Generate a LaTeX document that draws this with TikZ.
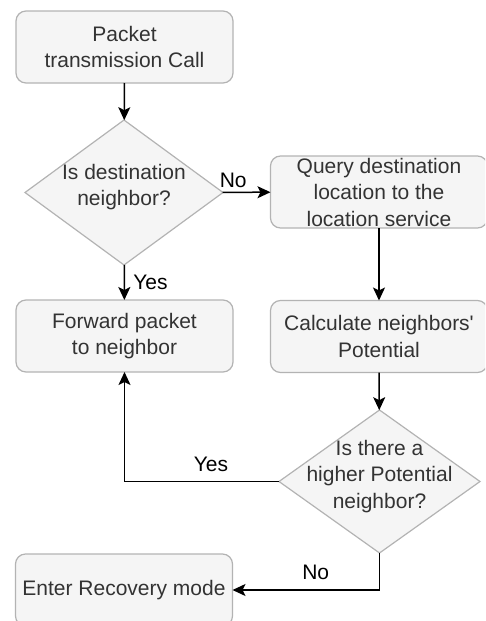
\documentclass[tikz,border=0pt]{standalone}
\usepackage{fontspec}
\setmainfont{Liberation Sans}
\usepackage{xcolor}
\usetikzlibrary{arrows.meta, shapes.geometric}
\definecolor{boxF}{HTML}{F5F5F5}
\definecolor{boxD}{HTML}{B3B3B3}
\definecolor{boxT}{HTML}{333333}
% text that does not size its diamond
\newcommand{\flattext}[1]{\smash{\makebox[0pt]{\begin{tabular}{@{}c@{}}#1\end{tabular}}}}

\begin{document}
\begin{tikzpicture}[x=1pt, y=-1pt,
  every node/.style={font=\fontsize{21}{26.5}\selectfont},
  stepbox/.style={draw=boxD, line width=1.2pt, fill=boxF, text=boxT, rounded corners=10pt,
    minimum width=217pt, minimum height=72pt, align=center, inner sep=0pt, outer sep=0pt},
  testbox/.style={diamond, draw=boxD, line width=1.2pt, fill=boxF, text=boxT,
    aspect=1.37, inner sep=0pt, outer sep=0pt, minimum width=198pt, minimum height=145pt},
  flow/.style={-{Stealth[length=13pt, width=12pt, inset=3pt]}, line width=1.5pt, black}]
\useasboundingbox (0,0) rectangle (485,621);
\clip (0,0) rectangle (485,621);
% boxes
\node[stepbox] (call) at (124.5,47) {Packet\\transmission Call};
\node[testbox] (isnb) at (124,192.5) {\flattext{Is destination\\neighbor?}};
\node[stepbox] (query) at (379,192) {Query destination\\location to the\\location service};
\node[stepbox] (fwd) at (124.5,336) {Forward packet\\to neighbor};
\node[stepbox] (calc) at (379,336.5) {Calculate neighbors\textquotesingle\\Potential};
\node[testbox, minimum width=201pt, minimum height=143pt] (higher) at (379.5,481.5)
  {\flattext{Is there a\\higher Potential\\neighbor?}};
\node[stepbox] (recov) at (124,590) {Enter Recovery mode};
% arrows
\draw[flow] (call) -- (isnb);
\draw[flow] (isnb) -- (query) node[pos=0.22, above=1pt] {No};
\draw[flow] (isnb) -- (fwd) node[pos=0.5, right=5pt] {Yes};
\draw[flow] (query) -- (calc);
\draw[flow] (calc) -- (higher);
\draw[flow] (higher.west) -| (fwd.south) node[pos=0.22, above=6pt] {Yes};
\draw[flow] (higher.south) |- (recov.east) node[pos=0.717, above=6pt] {No};
\end{tikzpicture}
\end{document}
